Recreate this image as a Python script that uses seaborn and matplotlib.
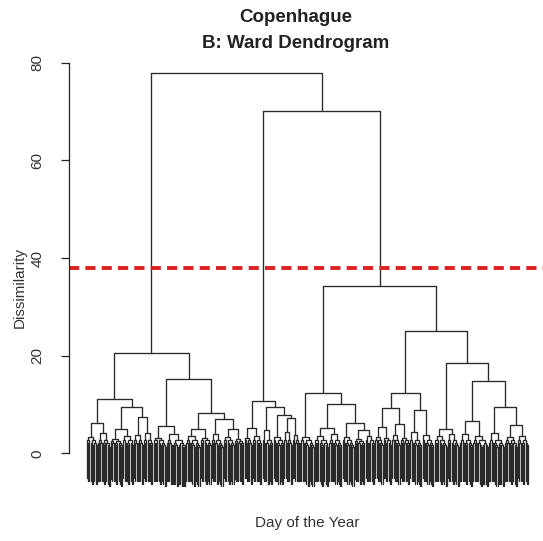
import matplotlib
matplotlib.use("Agg")
import matplotlib.pyplot as plt
import seaborn as sns
import pandas as pd

# --- Bottom groups of days (left to right): number of days and the height
#     at which each small group is joined together
group_names = ["g1", "g2", "g3", "g4", "g5", "g6", "g7", "g8", "g9", "g10",
               "g11", "g12a", "g12b", "g13", "g14", "g15", "g16", "g17", "g18",
               "g19", "g20", "g21", "g22", "g23", "g24", "g25", "g26", "g27",
               "g28", "g29", "g30", "g31", "g32", "g33", "g34", "g35", "g36",
               "g37"]
group_sizes = [9, 11, 10, 9, 8, 8, 11, 16, 12, 9,
               10, 9, 8, 7, 8, 9, 9, 7, 6,
               12, 12, 11, 10, 9, 8, 7, 7, 7,
               8, 10, 10, 11, 10, 11, 13, 13, 11,
               9]
group_tops = [3.4, 4.1, 3.0, 3.6, 3.8, 4.2, 3.2, 4.0, 3.5, 3.1,
              3.9, 3.3, 3.0, 3.2, 3.6, 4.7, 3.3, 4.4, 3.8,
              3.3, 3.5, 3.9, 3.4, 3.0, 3.6, 3.4, 3.1, 3.7,
              3.2, 4.3, 3.8, 3.5, 3.9, 4.0, 3.5, 4.1, 3.3,
              3.6]
# heights of the merges inside each small group, by depth
twig_levels = [2.8, 2.1, 1.6, 1.2, 0.9]

# --- Upper Ward merges: node name, left child, right child, dissimilarity
node_names = ["A1a", "A1b1", "A1b2", "A1b", "A1", "A2a", "A2b1", "A2b2b",
              "A2b2", "A2b", "A2", "A", "M1", "M2b2", "M2b", "M2", "M",
              "C1b1", "C1b2b", "C1b2", "C1b", "C1", "C2a1a", "C2a1b", "C2a1",
              "C2a2", "C2a", "C2b1", "C2b2a", "C2b2b2", "C2b2b", "C2b2",
              "C2b", "C2", "C", "R", "root"]
node_left = ["g1", "g3", "g5", "A1b1", "A1a", "g7", "g9", "g12a",
             "g11", "A2b1", "A2a", "A1", "g13", "g17", "g16", "g15", "M1",
             "g20", "g23", "g22", "C1b1", "g19", "g25", "g27", "C2a1a",
             "g29", "C2a1", "g31", "g33", "g36", "g35", "C2b2a",
             "C2b1", "C2a", "C1", "M", "A"]
node_right = ["g2", "g4", "g6", "A1b2", "A1b", "g8", "g10", "g12b",
              "A2b2b", "A2b2", "A2b", "A2", "g14", "g18", "M2b2", "M2b", "M2",
              "g21", "g24", "C1b2b", "C1b2", "C1b", "g26", "g28", "C2a1b",
              "g30", "C2a2", "g32", "g34", "g37", "C2b2b2", "C2b2b",
              "C2b2", "C2b", "C2", "C", "R"]
node_height = [6.2, 4.9, 7.4, 9.5, 11.1, 5.5, 4.9, 4.9,
               7.0, 8.3, 15.2, 20.6, 5.1, 7.3, 7.8, 9.5, 10.7,
               5.1, 4.7, 6.2, 10.2, 12.4, 5.3, 6.1, 9.2,
               8.9, 12.4, 4.9, 6.6, 5.7, 9.5, 14.8,
               18.5, 25.1, 34.3, 70.2, 78.0]

cut_height = 38
y_ticks = [0, 20, 40, 60, 80]

HANG = 7.8  # length of the leaf stems below their merge

groups = {n: (s, t) for n, s, t in zip(group_names, group_sizes, group_tops)}
nodes = {n: (l, r, h) for n, l, r, h in
         zip(node_names, node_left, node_right, node_height)}

rows = []
state = {"leaf": 0, "link": 0}


def add_link(xl, yl, xr, yr, h):
    for px, py in ((xl, yl), (xl, h), (xr, h), (xr, yr)):
        rows.append({"link": state["link"], "x": px, "y": py})
    state["link"] += 1


def bush(n, h, level):
    """Small group of n days joined at height h; returns (x, height)."""
    if n == 1:
        x = state["leaf"]
        state["leaf"] += 1
        return x, None
    nl = (n + 1) // 3 if level % 2 == 0 else n // 2
    nl = max(1, nl)
    nr = n - nl
    child_h = min(twig_levels[min(level, len(twig_levels) - 1)], h - 0.4)
    xl, hl = bush(nl, child_h, level + 1)
    xr, hr = bush(nr, child_h, level + 1)
    add_link(xl, h - HANG if hl is None else hl,
             xr, h - HANG if hr is None else hr, h)
    return (xl + xr) / 2, h


def walk(name):
    if name in groups:
        size, top = groups[name]
        return bush(size, top, 0)
    left, right, h = nodes[name]
    xl, hl = walk(left)
    xr, hr = walk(right)
    add_link(xl, hl, xr, hr, h)
    return (xl + xr) / 2, h


walk("root")
links = pd.DataFrame(rows)

sns.set_style("white")
plt.rcParams["font.family"] = ["Liberation Sans", "DejaVu Sans"]

W, H = 543, 541
fig = plt.figure(figsize=(W / 100, H / 100), dpi=100)
ax = fig.add_axes([69 / W, (H - 506) / H, 477 / W, 450 / H])

sns.lineplot(data=links, x="x", y="y", units="link", estimator=None,
             sort=False, color="#2a2a2a", linewidth=0.95, ax=ax)

ax.axhline(cut_height, color="#dd2020", linewidth=2.8,
           linestyle=(0, (2.6, 1.6)))

ax.set_xlim(-14.9, 378.9)
ax.set_ylim(-10.8, 81.4)
ax.set_xlabel("")
ax.set_ylabel("")
ax.set_xticks([])
ax.set_yticks(y_ticks)
ax.set_yticklabels([str(v) for v in y_ticks])
for side in ("top", "right", "bottom"):
    ax.spines[side].set_visible(False)
ax.spines["left"].set_bounds(0, 80)
ax.spines["left"].set_color("#222222")
ax.spines["left"].set_linewidth(0.9)
ax.tick_params(axis="y", direction="out", length=5.5, width=0.9,
               color="#222222", pad=12, labelsize=11,
               labelcolor="#333333", labelrotation=90, left=True)
for lab in ax.get_yticklabels():
    lab.set_va("center")

fig.text(296 / W, 1 - 18 / H, "Copenhague", ha="center", va="center",
         fontsize=13.5, fontweight="bold", color="#222222")
fig.text(296 / W, 1 - 44 / H, "B: Ward Dendrogram", ha="center",
         va="center", fontsize=13.5, fontweight="bold", color="#222222")
fig.text(307 / W, 1 - 523 / H, "Day of the Year", ha="center",
         va="center", fontsize=11, color="#333333")
fig.text(20 / W, 1 - 288 / H, "Dissimilarity", ha="center", va="center",
         rotation=90, fontsize=11, color="#333333")

fig.savefig("out.png", dpi=100)
